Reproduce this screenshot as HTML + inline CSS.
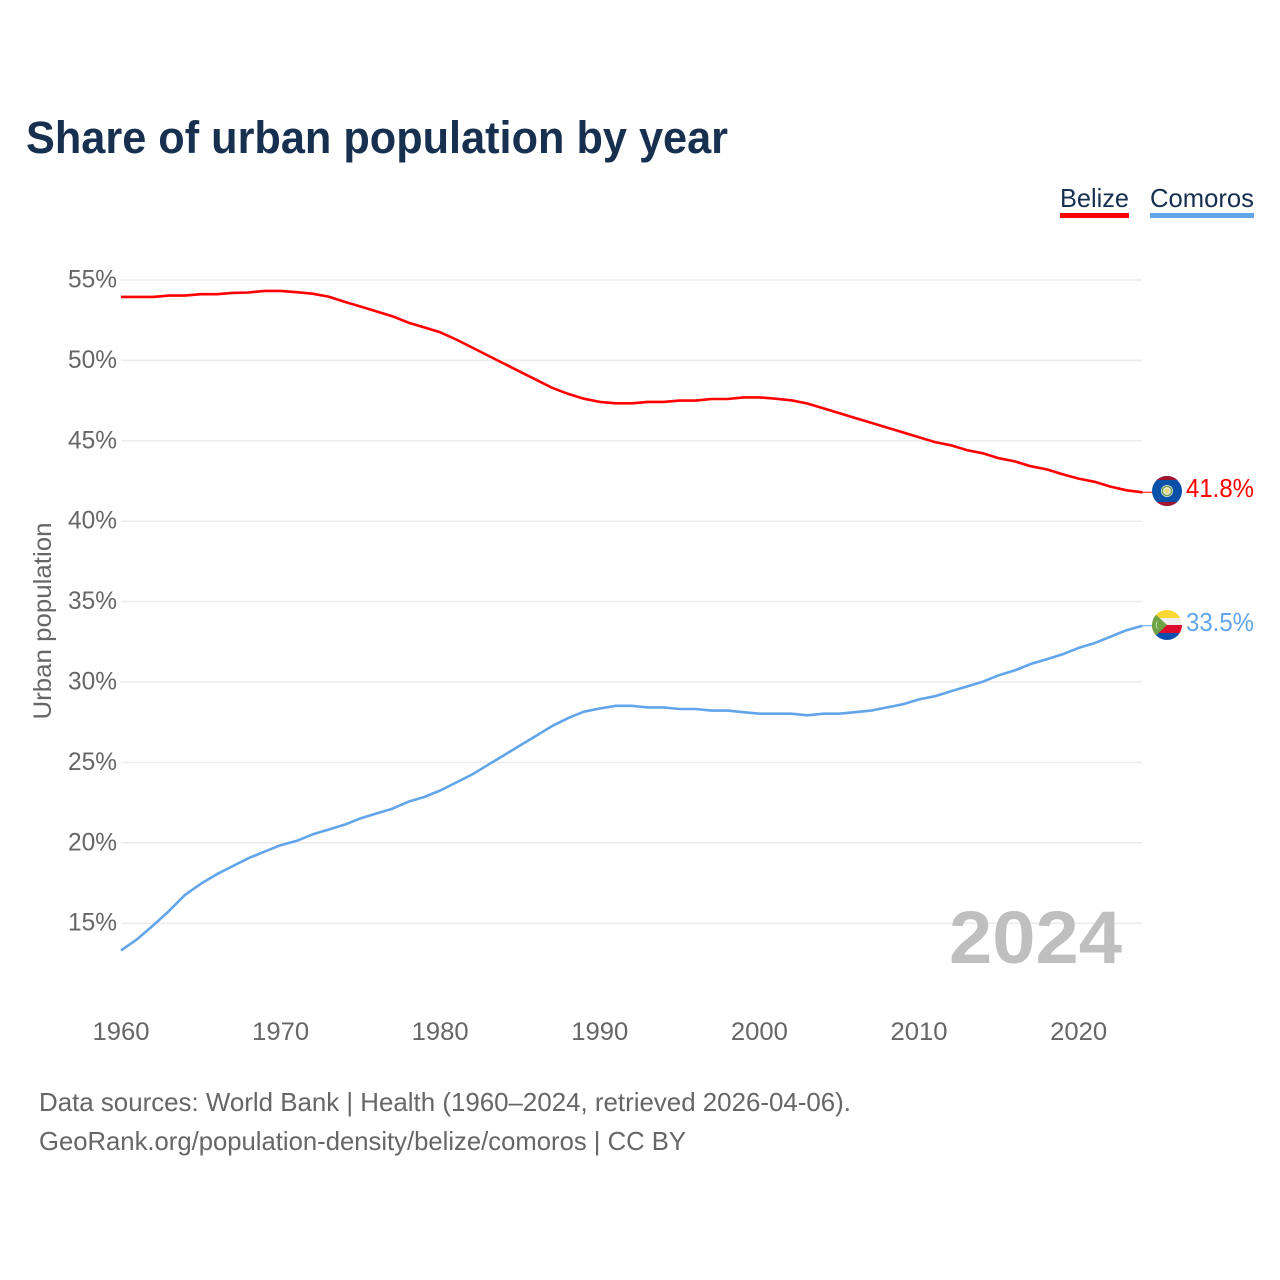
<!DOCTYPE html>
<html lang="en">
<head>
<meta charset="utf-8">
<title>Share of urban population by year</title>
<style>
html,body{margin:0;padding:0;background:#fff;}
svg{display:block;font-family:"Liberation Sans",sans-serif;}
</style>
</head>
<body>
<svg id="chart" width="1280" height="1280" viewBox="0 0 1280 1280" xmlns="http://www.w3.org/2000/svg">
  <defs>
    <clipPath id="belize-clip"><circle cx="1167" cy="491" r="15"/></clipPath>
    <clipPath id="comoros-clip"><circle cx="1167" cy="625" r="15"/></clipPath>
  </defs>
  <rect width="1280" height="1280" fill="#fff"/>
  <text x="26" y="153" font-size="45" font-weight="700" fill="#17304f" textLength="702" lengthAdjust="spacingAndGlyphs">Share of urban population by year</text>

  <g>
    <g>
      <text x="1060" y="207" font-size="26" fill="#17304f" textLength="69" lengthAdjust="spacingAndGlyphs">Belize</text>
      <rect x="1060" y="213" width="69" height="5" fill="#ff0000"/>
    </g>
    <g>
      <text x="1150" y="207" font-size="26" fill="#17304f" textLength="104" lengthAdjust="spacingAndGlyphs">Comoros</text>
      <rect x="1150" y="213" width="104" height="5" fill="#62a5ea"/>
    </g>
  </g>

  <g id="grid"></g>
  <g id="y-ticks"></g>
  <g id="x-ticks"></g>
  <text transform="translate(51 621) rotate(-90)" text-anchor="middle" font-size="25" fill="#666" textLength="197" lengthAdjust="spacingAndGlyphs">Urban population</text>

  <text x="1122" y="963" text-anchor="end" font-size="74" font-weight="700" fill="#bfbfbf" textLength="173" lengthAdjust="spacingAndGlyphs">2024</text>

  <g id="series"></g>

  <g clip-path="url(#belize-clip)">
    <rect x="1152" y="476" width="30" height="30" fill="#0a4fa8"/>
    <rect x="1152" y="476" width="30" height="4" fill="#a3152f"/>
    <rect x="1152" y="502" width="30" height="4" fill="#a3152f"/>
    <circle cx="1167" cy="491" r="6" fill="#e6ecd8"/>
    <circle cx="1167" cy="491" r="4.6" fill="none" stroke="#6d9a4e" stroke-width="1.4"/>
    <circle cx="1167" cy="491" r="2.4" fill="#e7d27a"/>
  </g>
  <g clip-path="url(#comoros-clip)">
    <rect x="1152" y="610" width="30" height="8" fill="#fdd835"/>
    <rect x="1152" y="618" width="30" height="7" fill="#efefef"/>
    <rect x="1152" y="625" width="30" height="8" fill="#dd0a2c"/>
    <rect x="1152" y="633" width="30" height="7" fill="#0b50b0"/>
    <polygon points="1150,609 1167,625 1150,641" fill="#6da544"/>
    <path d="M1158.5 620.5 A5 5 0 0 0 1158.5 629.5 A6 6 0 0 1 1158.5 620.5 Z" fill="#eef3e6"/>
  </g>

  <text id="end-belize" x="1186" y="497" font-size="26" fill="#ff0000" textLength="68" lengthAdjust="spacingAndGlyphs">41.8%</text>
  <text id="end-comoros" x="1186" y="631" font-size="26" fill="#62a5ea" textLength="68" lengthAdjust="spacingAndGlyphs">33.5%</text>

  <text x="39" y="1111" font-size="26" fill="#666" textLength="812" lengthAdjust="spacingAndGlyphs">Data sources: World Bank | Health (1960–2024, retrieved 2026-04-06).</text>
  <text x="39" y="1150" font-size="26" fill="#666" textLength="647" lengthAdjust="spacingAndGlyphs">GeoRank.org/population-density/belize/comoros | CC BY</text>
</svg>
<script>
const startYear = 1960;
const xTickLabels = [1960, 1970, 1980, 1990, 2000, 2010, 2020];
const yTickLabels = [55, 50, 45, 40, 35, 30, 25, 20, 15];
const belizeValues = [
  53.95,53.95,53.95,54.03,54.03,54.12,54.12,54.2,54.22,54.32,54.32,54.24,54.15,53.97,
  53.65,53.35,53.05,52.75,52.35,52.05,51.75,51.3,50.8,50.3,49.8,49.3,48.8,48.3,
  47.92,47.62,47.42,47.33,47.33,47.42,47.42,47.5,47.5,47.6,47.6,47.7,47.7,47.62,47.52,
  47.32,47.02,46.72,46.42,46.12,45.82,45.52,45.22,44.92,44.72,44.42,44.22,43.92,43.72,
  43.42,43.22,42.92,42.65,42.45,42.15,41.92,41.8
];
const comorosValues = [
  13.3,14.0,14.85,15.75,16.75,17.45,18.05,18.55,19.05,19.45,19.85,20.12,20.52,20.82,21.12,
  21.52,21.82,22.12,22.55,22.85,23.25,23.75,24.25,24.85,25.45,26.05,26.65,27.25,27.75,
  28.15,28.35,28.52,28.52,28.42,28.42,28.32,28.32,28.22,28.22,28.12,28.03,28.03,28.03,
  27.93,28.03,28.03,28.12,28.22,28.42,28.62,28.92,29.12,29.42,29.72,30.02,30.42,30.72,
  31.12,31.42,31.72,32.12,32.42,32.82,33.22,33.5
];
const belizeName = 'belize';
const comorosName = 'comoros';

const NS = 'http://www.w3.org/2000/svg';
function xScale(year) { return 121 + (year - startYear) * 15.96; }
function yScale(value) { return 280 + (55 - value) * 16.08; }

function makeText(parent, x, y, anchor, content) {
  const t = document.createElementNS(NS, 'text');
  t.setAttribute('x', x);
  t.setAttribute('y', y);
  t.setAttribute('text-anchor', anchor);
  t.setAttribute('font-size', '25');
  t.setAttribute('fill', '#666');
  t.textContent = content;
  parent.appendChild(t);
  return t;
}

const grid = document.getElementById('grid');
const yTicks = document.getElementById('y-ticks');
yTickLabels.forEach(function (v) {
  const y = yScale(v);
  const line = document.createElementNS(NS, 'line');
  
  
  line.setAttribute('x1', 121);
  line.setAttribute('x2', 1142);
  line.setAttribute('y1', y);
  line.setAttribute('y2', y);
  line.setAttribute('stroke', '#ececec');
  line.setAttribute('stroke-width', '1.5');
  grid.appendChild(line);
  const t = makeText(yTicks, 117, y + 7.5, 'end', v + '%');
  
  
  t.setAttribute('textLength', '49');
  t.setAttribute('lengthAdjust', 'spacingAndGlyphs');
});

const xTicks = document.getElementById('x-ticks');
xTickLabels.forEach(function (yr) {
  const t = makeText(xTicks, xScale(yr), 1040, 'middle', String(yr));
  
  
  t.setAttribute('textLength', '57');
  t.setAttribute('lengthAdjust', 'spacingAndGlyphs');
});

function drawSeries(values, colour, label) {
  const pts = values.map(function (v, i) {
    return xScale(startYear + i).toFixed(1) + ',' + yScale(v).toFixed(1);
  });
  const g = document.getElementById('series');
  const path = document.createElementNS(NS, 'polyline');
  
  
  path.setAttribute('points', pts.join(' '));
  path.setAttribute('fill', 'none');
  path.setAttribute('stroke', colour);
  path.setAttribute('stroke-width', '2.6');
  path.setAttribute('stroke-linejoin', 'round');
  g.appendChild(path);
  const lastY = yScale(values[values.length - 1]);
  const lead = document.createElementNS(NS, 'line');
  
  
  lead.setAttribute('x1', xScale(startYear + values.length - 1));
  lead.setAttribute('x2', 1153);
  lead.setAttribute('y1', lastY);
  lead.setAttribute('y2', lastY);
  lead.setAttribute('stroke', colour);
  lead.setAttribute('stroke-width', '1');
  g.appendChild(lead);
}
drawSeries(belizeValues, '#ff0000', belizeName);
drawSeries(comorosValues, '#62a5ea', comorosName);

document.getElementById('end-belize').textContent = belizeValues[belizeValues.length - 1].toFixed(1) + '%';
document.getElementById('end-comoros').textContent = comorosValues[comorosValues.length - 1].toFixed(1) + '%';
</script>
</body>
</html>
